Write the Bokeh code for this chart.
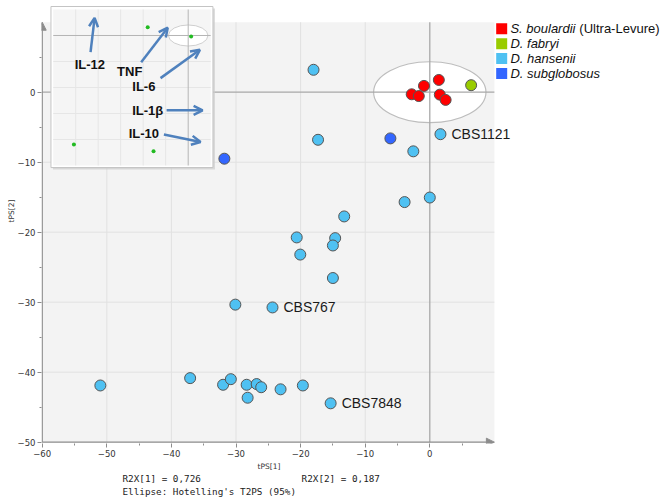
import numpy as np
from bokeh.plotting import figure
from bokeh.models import Range1d, FixedTicker, ColumnDataSource, Arrow, NormalHead, OpenHead, Title
from bokeh.core.properties import value
from bokeh.embed import file_html
from bokeh.resources import INLINE

# ---- score values (tPS[1], tPS[2]) per yeast group ----
boulardii_t1 = [-2.8, -1.7, -0.9, 1.4, 1.55, 2.45]
boulardii_t2 = [-0.3, -0.55, 0.9, 1.75, -0.35, -1.1]
fabryi_t1 = [6.4]
fabryi_t2 = [1.0]
hansenii_t1 = [-18.0, -17.3, 1.65, -2.55, -3.9, 0.0, -13.25, -20.6, -14.65, -15.0,
               -20.05, -15.0, -30.1, -24.35, -51.0, -37.1, -32.0, -30.8, -28.35,
               -28.2, -26.8, -26.1, -23.1, -19.65, -15.35]
hansenii_t2 = [3.2, -6.8, -6.0, -8.45, -15.7, -15.05, -17.75, -20.75, -20.85, -21.9,
               -23.2, -26.55, -30.35, -30.75, -41.9, -40.85, -41.8, -41.0, -41.8,
               -43.65, -41.7, -42.15, -42.45, -41.9, -44.45]
subglob_t1 = [-6.1, -31.8]
subglob_t2 = [-6.6, -9.5]

# named strains (index into the D. hansenii arrays)
strain_names = ["CBS1121", "CBS767", "CBS7848"]
strain_index = [2, 13, 24]

# Hotelling T2 (95%) ellipse half-axes
ellipse_half_t1 = 8.7
ellipse_half_t2 = 4.35

legend_italic = ["S. boulardii", "D. fabryi", "D. hansenii", "D. subglobosus"]
legend_colors = ["#ff0000", "#99cc00", "#4fc1f2", "#3366ff"]

x_ticks = [-60, -50, -40, -30, -20, -10, 0]
y_ticks = [-50, -40, -30, -20, -10, 0]
X_MIN, X_MAX, Y_MIN, Y_MAX = -60, 10, -50, 10

r2x = ["0,726", "0,187"]

# ---- loadings inset (p[1], p[2]) ----
loading_p1 = [-0.18, 0.013, -0.508, -0.154]
loading_p2 = [0.032, -0.004, -0.419, -0.445]
cytokines = ["IL-12", "TNF", "IL-6", "IL-1β", "IL-10"]
cyto_label_p1 = [-0.437, -0.26, -0.197, -0.18, -0.197]
cyto_label_p2 = [-0.112, -0.137, -0.196, -0.288, -0.376]
arrow_p1_start = [-0.434, -0.209, -0.123, -0.096, -0.108]
arrow_p2_start = [-0.064, -0.103, -0.164, -0.288, -0.381]
arrow_p1_end = [-0.416, -0.091, 0.052, 0.064, 0.055]
arrow_p2_end = [0.068, 0.030, -0.055, -0.288, -0.410]

# inset placement: loading units -> score-plot units
INSET_X0, INSET_SX = -37.40, 34.83
INSET_Y0, INSET_SY = 8.1, 37.14


def ix(u):
    return INSET_X0 + INSET_SX * np.asarray(u, dtype=float)


def iy(v):
    return INSET_Y0 + INSET_SY * np.asarray(v, dtype=float)


p = figure(width=661, height=501,
           x_range=Range1d(-60.11, 35.87), y_range=Range1d(-50.19, 13.10),
           min_border_left=41, min_border_right=0, min_border_top=0, min_border_bottom=58,
           toolbar_location=None, output_backend="svg",
           outline_line_color=None, background_fill_color="white", border_fill_color="white")
p.grid.visible = False

AX = "#8c8c8c"
for ax in (p.xaxis, p.yaxis):
    ax.axis_line_color = None
    ax.major_tick_line_color = AX
    ax.minor_tick_line_color = AX
    ax.major_tick_in = 0
    ax.major_tick_out = 4
    ax.minor_tick_in = 0
    ax.minor_tick_out = 2
    ax.major_label_text_font = "DejaVu Sans"
    ax.major_label_text_font_size = "8.5px"
    ax.major_label_text_color = "#333333"
    ax.major_label_standoff = 2
p.xaxis.ticker = FixedTicker(ticks=x_ticks, minor_ticks=[t + 5 for t in x_ticks])
p.yaxis.ticker = FixedTicker(ticks=y_ticks, minor_ticks=[t + 5 for t in y_ticks])

# axis titles, placed along the plotted part of each axis
TITLE_STYLE = dict(text_font="DejaVu Sans", text_font_size="7.5px",
                   text_font_style="normal", text_color="#333333", align="left")
p.add_layout(Title(text="tPS[1]", offset=216, standoff=0, **TITLE_STYLE), "below")
p.add_layout(Title(text="tPS[2]", offset=221, standoff=-2, **TITLE_STYLE), "left")

# model summary under the plot
NB = "\u00a0"
summary = ["R2X[1] = " + r2x[0] + NB * 18 + "R2X[2] = " + r2x[1],
           "Ellipse: Hotelling's T2PS (95%)"]
for line, so in zip(summary, [1, -1]):
    p.add_layout(Title(text=line, align="left", offset=81, standoff=so,
                       text_font="DejaVu Sans Mono", text_font_size="9.3px",
                       text_font_style="normal", text_color="#222222"), "below")

# plot area background
p.quad(left=[X_MIN], right=[X_MAX], bottom=[Y_MIN], top=[Y_MAX],
       fill_color="#f3f3f3", line_color=None)

# grid
gx = [t for t in x_ticks if X_MIN < t < 0]
gy = [t for t in y_ticks if Y_MIN < t < 0]
p.segment(x0=gx, y0=[Y_MIN] * len(gx), x1=gx, y1=[Y_MAX] * len(gx),
          line_color="#e1e1e1", line_width=1)
p.segment(x0=[X_MIN] * len(gy), y0=gy, x1=[X_MAX] * len(gy), y1=gy,
          line_color="#e1e1e1", line_width=1)

# Hotelling ellipse
p.ellipse(x=[0], y=[0], width=[2 * ellipse_half_t1], height=[2 * ellipse_half_t2],
          fill_color="white", line_color="#bdbdbd", line_width=1.2)

# origin lines
p.segment(x0=[0, X_MIN], y0=[Y_MIN, 0], x1=[0, X_MAX], y1=[Y_MAX, 0],
          line_color="#a8a8a8", line_width=1.3)

# axis lines with arrow heads
p.add_layout(Arrow(x_start=X_MIN, y_start=Y_MIN, x_end=X_MAX, y_end=Y_MIN,
                   line_color=AX, line_width=1.3,
                   end=NormalHead(size=8, fill_color=AX, line_color=AX)))
p.add_layout(Arrow(x_start=X_MIN, y_start=Y_MIN, x_end=X_MIN, y_end=Y_MAX,
                   line_color=AX, line_width=1.3,
                   end=NormalHead(size=8, fill_color=AX, line_color=AX)))

# scores
OUT = "#555555"
groups = [(hansenii_t1, hansenii_t2, legend_colors[2]),
          (subglob_t1, subglob_t2, legend_colors[3]),
          (boulardii_t1, boulardii_t2, legend_colors[0]),
          (fabryi_t1, fabryi_t2, legend_colors[1])]
for gx_, gy_, col in groups:
    p.scatter(x=gx_, y=gy_, size=11, fill_color=col, line_color=OUT, line_width=1)

# strain labels
p.text(x=[hansenii_t1[i] for i in strain_index], y=[hansenii_t2[i] for i in strain_index],
       text=strain_names, x_offset=11, text_font=value("Liberation Sans"),
       text_font_size="14px", text_color="#1a1a1a", text_baseline="middle", text_align="left")

# legend
leg_y = [9.06 - 2.13 * k for k in range(len(legend_italic))]
p.scatter(x=[11.13] * len(leg_y), y=leg_y, marker="square", size=11,
          fill_color=legend_colors, line_color=None)
p.text(x=[12.48] * len(leg_y), y=leg_y, text=legend_italic,
       text_font=value("Liberation Sans"), text_font_style="italic",
       text_font_size="13px", text_color="#111111", text_baseline="middle")
p.text(x=[23.15], y=[leg_y[0]], text=["(Ultra-Levure)"],
       text_font=value("Liberation Sans"), text_font_size="13px",
       text_color="#111111", text_baseline="middle")

# ---- loadings inset ----
in_l, in_r, in_b, in_t = -0.6, 0.1, -0.5, 0.1
out_l, out_r, out_b, out_t = -0.61, 0.11, -0.508, 0.1115
sh = 2.0 / 6.46
p.quad(left=[ix(out_l) + sh], right=[ix(out_r) + sh], bottom=[iy(out_b) - 2 / 7], top=[iy(out_t) - 2 / 7],
       fill_color="#cccccc", line_color=None, fill_alpha=0.7)
p.quad(left=[ix(out_l)], right=[ix(out_r)], bottom=[iy(out_b)], top=[iy(out_t)],
       fill_color="white", line_color="#c4c4c4", line_width=1)
p.quad(left=[ix(in_l)], right=[ix(in_r)], bottom=[iy(in_b)], top=[iy(in_t)],
       fill_color="#f5f5f5", line_color=None)
ig_u = [-0.5, -0.4, -0.3, -0.2, -0.1]
ig_v = [-0.4, -0.3, -0.2, -0.1]
p.segment(x0=ix(ig_u), y0=[iy(in_b)] * 5, x1=ix(ig_u), y1=[iy(in_t)] * 5,
          line_color="#e6e6e6", line_width=1)
p.segment(x0=[ix(in_l)] * 4, y0=iy(ig_v), x1=[ix(in_r)] * 4, y1=iy(ig_v),
          line_color="#e6e6e6", line_width=1)
p.ellipse(x=[ix(0)], y=[iy(0)], width=[0.176 * INSET_SX], height=[0.081 * INSET_SY],
          fill_color="white", line_color="#cfcfcf", line_width=1)
p.segment(x0=[ix(0), ix(in_l)], y0=[iy(in_b), iy(0)], x1=[ix(0), ix(in_r)], y1=[iy(in_t), iy(0)],
          line_color="#b5b5b5", line_width=1)
p.scatter(x=ix(loading_p1), y=iy(loading_p2), size=4, fill_color="#22bb22", line_color=None)

arrow_src = ColumnDataSource(dict(xs=ix(arrow_p1_start), ys=iy(arrow_p2_start),
                                  xe=ix(arrow_p1_end), ye=iy(arrow_p2_end)))
p.add_layout(Arrow(x_start="xs", y_start="ys", x_end="xe", y_end="ye", source=arrow_src,
                   line_color="#4f81bd", line_width=2.5,
                   end=OpenHead(size=9, line_color="#4f81bd", line_width=2.5)))
p.text(x=ix(cyto_label_p1), y=iy(cyto_label_p2), text=cytokines,
       text_font=value("Liberation Sans"), text_font_style="bold", text_font_size="13px",
       text_color="#111111", text_align="center", text_baseline="middle")

open("out.html", "w").write(file_html(p, INLINE))
